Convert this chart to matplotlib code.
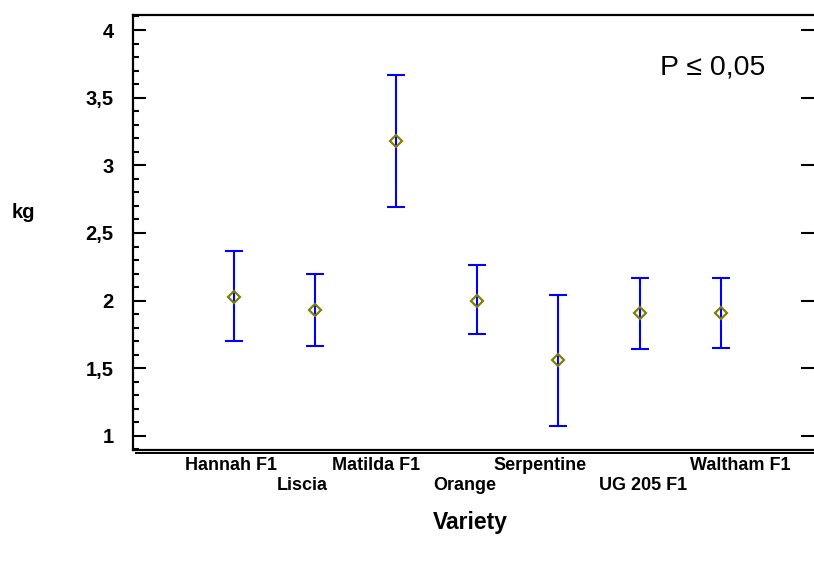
import matplotlib.pyplot as plt
import matplotlib.transforms as mtransforms
from matplotlib.lines import Line2D
from matplotlib.ticker import MultipleLocator, FuncFormatter

varieties = ["Hannah F1", "Liscia", "Matilda F1", "Orange", "Serpentine", "UG 205 F1", "Waltham F1"]
means = [2.03, 1.93, 3.18, 2.00, 1.56, 1.91, 1.91]
upper = [2.37, 2.20, 3.67, 2.26, 2.04, 2.17, 2.17]
lower = [1.70, 1.665, 2.69, 1.75, 1.07, 1.64, 1.65]

# label layout (row 0 = upper, row 1 = lower) and small horizontal nudges in px
label_row = [0, 1, 0, 1, 0, 1, 0]
label_dx = [-3, -13, -20, -13, -18, 3, 20]

plt.rcParams['font.family'] = ['Liberation Sans', 'DejaVu Sans']

W, H = 814, 563
fig = plt.figure(figsize=(W / 100, H / 100), dpi=100)
ax = fig.add_axes([133 / W, 1 - 450 / H, 1 - 133 / W, (450 - 15) / H])

x = list(range(len(varieties)))
err = [[m - l for m, l in zip(means, lower)], [u - m for m, u in zip(means, upper)]]
ax.errorbar(x, means, yerr=err, fmt='none', ecolor='#0000ff', elinewidth=1.5,
            capsize=6.5, capthick=1.5, zorder=2)
ax.plot(x, means, 'D', ms=6, mfc='none', mec='#808000', mew=1.6, zorder=3)

ax.set_xlim(-1.245, 7.15)
ax.set_ylim(0.896, 4.111)

ax.yaxis.set_major_locator(MultipleLocator(0.5))
ax.yaxis.set_minor_locator(MultipleLocator(0.1))
ax.yaxis.set_major_formatter(FuncFormatter(lambda v, p: ('%g' % v).replace('.', ',')))
ax.tick_params(axis='y', which='major', direction='in', length=9.5, width=1.5,
               left=True, right=True, labelsize=14.5, pad=14)
ax.tick_params(axis='y', which='minor', direction='in', length=4, width=1.5,
               left=True, right=False)
ax.tick_params(axis='x', which='both', bottom=False, top=False, labelbottom=False)
for lab in ax.get_yticklabels():
    lab.set_fontweight('bold')

ax.spines['right'].set_visible(False)
for s in ['left', 'top', 'bottom']:
    ax.spines[s].set_linewidth(1.6)

# second bottom rule (double line)
fig.add_artist(Line2D([136 / W, 1], [1 - 452.5 / H, 1 - 452.5 / H], color='black', lw=1.4))

trans = mtransforms.blended_transform_factory(ax.transData, ax.transAxes)
for i, name in enumerate(varieties):
    ax.annotate(name, xy=(x[i], 0), xycoords=trans,
                xytext=(label_dx[i], -16 - 19.5 * label_row[i]), textcoords='offset pixels',
                ha='center', va='center', fontsize=13, fontweight='bold')

fig.text(23.5 / W, 1 - 213 / H, 'kg', ha='center', va='center', fontsize=14.5, fontweight='bold')
fig.text(470 / W, 1 - 523 / H, 'Variety', ha='center', va='center', fontsize=16.5, fontweight='bold')
fig.text(713 / W, 1 - 67 / H, 'P ≤ 0,05', ha='center', va='center', fontsize=20.5)

fig.savefig('out.png', dpi=100)
